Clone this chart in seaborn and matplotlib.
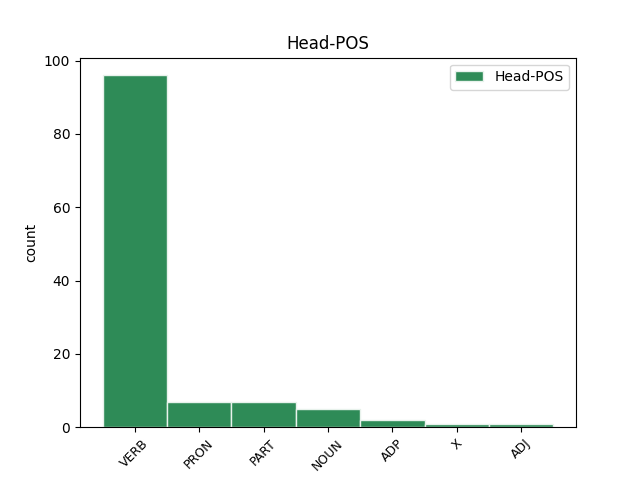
import pandas as pd
import seaborn as sns
import matplotlib.pyplot as plt

pos_tags = ["VERB", "PRON", "PART", "NOUN", "ADP", "X", "ADJ"]
counts = [96, 7, 7, 5, 2, 1, 1]

df = pd.DataFrame({"pos": pos_tags, "count": counts})

fig, ax = plt.subplots(figsize=(6.4, 4.8), dpi=100)
sns.barplot(data=df, x="pos", y="count", color="seagreen", saturation=1,
            width=1.0, edgecolor="#e8f2ec", linewidth=1, label="Head-POS", ax=ax)

ax.set_xlim(-0.85, len(pos_tags) - 0.15)
ax.set_title("Head-POS")
ax.set_xlabel("")
ax.set_ylabel("count")
plt.xticks(rotation=45, fontsize=9)
ax.legend(loc="upper right")
plt.savefig("out.png")
